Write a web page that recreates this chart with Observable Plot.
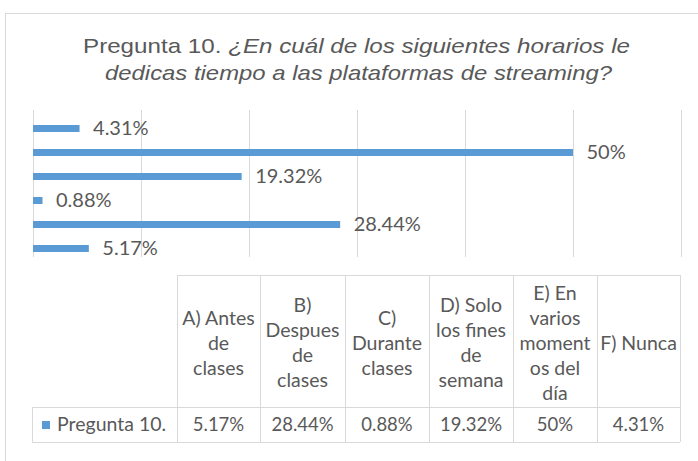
<!DOCTYPE html>
<html>
<head>
<meta charset="utf-8">
<script src="https://cdn.jsdelivr.net/npm/d3@7"></script>
<script src="https://cdn.jsdelivr.net/npm/@observablehq/plot@0.6"></script>
<style>
  html, body { margin: 0; padding: 0; background: #fff; }
  #chart svg { display: block; }
</style>
</head>
<body>
<div id="chart"></div>
<script>
// ---- data ----
const titlePlain = "Pregunta 10. ";
const titleItalic1 = "¿En cuál de los siguientes horarios le";
const titleItalic2 = "dedicas tiempo a las plataformas de streaming?";
const seriesName = "Pregunta 10.";
const categories = [
  "A) Antes de clases",
  "B) Despues de clases",
  "C) Durante clases",
  "D) Solo los fines de semana",
  "E) En varios momentos del día",
  "F) Nunca"
];
const headerLines = [
  ["A) Antes", "de", "clases"],
  ["B)", "Despues", "de", "clases"],
  ["C)", "Durante", "clases"],
  ["D) Solo", "los fines", "de", "semana"],
  ["E) En", "varios", "moment", "os del", "día"],
  ["F) Nunca"]
];
const values = [5.17, 28.44, 0.88, 19.32, 50, 4.31];
const valueLabels = ["5.17%", "28.44%", "0.88%", "19.32%", "50%", "4.31%"];
const xTicks = [0, 10, 20, 30, 40, 50, 60];

const data = categories.map((c, i) => ({category: c, value: values[i], label: valueLabels[i]}));

const blue = "#5b9bd5";
const gray = "#595959";
const lineGray = "#d9d9d9";

const W = 698, H = 461;

const chart = Plot.plot({
  width: W,
  height: H,
  marginLeft: 33,
  marginRight: 17,
  marginTop: 116,
  marginBottom: 201,
  x: {domain: [0, 60], axis: null},
  y: {domain: categories.slice().reverse(), axis: null, paddingInner: 0.71, paddingOuter: 0.355},
  style: {background: "#fff", fontFamily: "Lato, sans-serif", overflow: "visible"},
  marks: [
    Plot.ruleX(xTicks, {stroke: lineGray, strokeWidth: 1, insetTop: -6, insetBottom: 3}),
    Plot.barX(data, {x: "value", y: "category", fill: blue}),
    Plot.text(data, {x: "value", y: "category", text: "label", dx: 13, textAnchor: "start", fill: gray, fontSize: 20})
  ]
});

document.getElementById("chart").append(chart);

const svg = d3.select(chart);

// outer chart border
svg.append("rect")
  .attr("x", 5.5).attr("y", 13.5)
  .attr("width", W + 10).attr("height", H + 10)
  .attr("fill", "none").attr("stroke", lineGray);

// title
const title = svg.append("g")
  .attr("font-family", "'Liberation Sans', Arial, sans-serif")
  .attr("font-size", 21)
  .attr("fill", gray)
  .attr("text-anchor", "start");
const t1 = title.append("text").attr("x", 83).attr("y", 53)
  .attr("textLength", 547).attr("lengthAdjust", "spacingAndGlyphs");
t1.append("tspan").text(titlePlain);
t1.append("tspan").attr("font-style", "italic").text(titleItalic1);
title.append("text").attr("x", 105).attr("y", 80)
  .attr("textLength", 507).attr("lengthAdjust", "spacingAndGlyphs")
  .attr("font-style", "italic").text(titleItalic2);

// data table
const colEdges = [177, 260, 345, 429, 513, 597, 680];
const tTop = 275, tMid = 407, tBot = 442, tLeft = 32;
const table = svg.append("g").attr("stroke", lineGray).attr("stroke-width", 1).attr("shape-rendering", "crispEdges");
table.append("line").attr("x1", colEdges[0]).attr("x2", colEdges[6]).attr("y1", tTop).attr("y2", tTop);
table.append("line").attr("x1", tLeft).attr("x2", colEdges[6]).attr("y1", tMid).attr("y2", tMid);
table.append("line").attr("x1", tLeft).attr("x2", colEdges[6]).attr("y1", tBot).attr("y2", tBot);
table.append("line").attr("x1", tLeft).attr("x2", tLeft).attr("y1", tMid).attr("y2", tBot);
colEdges.forEach(x => {
  table.append("line").attr("x1", x).attr("x2", x).attr("y1", tTop).attr("y2", tBot);
});

const tt = svg.append("g")
  .attr("font-family", "Lato, sans-serif")
  .attr("fill", gray)
  .attr("text-anchor", "middle");
const lh = 25;
headerLines.forEach((lines, i) => {
  const cx = (colEdges[i] + colEdges[i + 1]) / 2;
  const cy = (tTop + tMid) / 2 + 2;
  const y0 = cy - (lines.length - 1) * lh / 2;
  lines.forEach((s, j) => {
    tt.append("text").attr("x", cx).attr("y", y0 + j * lh).attr("dy", "0.35em")
      .attr("font-size", 19.5).text(s);
  });
});
valueLabels.forEach((s, i) => {
  const cx = (colEdges[i] + colEdges[i + 1]) / 2;
  tt.append("text").attr("x", cx).attr("y", (tMid + tBot) / 2).attr("dy", "0.35em")
    .attr("font-size", 18.5).text(s);
});
// series legend key + name
svg.append("rect").attr("x", 42).attr("y", 421).attr("width", 8).attr("height", 8).attr("fill", blue);
tt.append("text").attr("x", 57).attr("y", (tMid + tBot) / 2).attr("dy", "0.35em")
  .attr("text-anchor", "start").attr("font-size", 19.5).text(seriesName);
</script>
</body>
</html>
